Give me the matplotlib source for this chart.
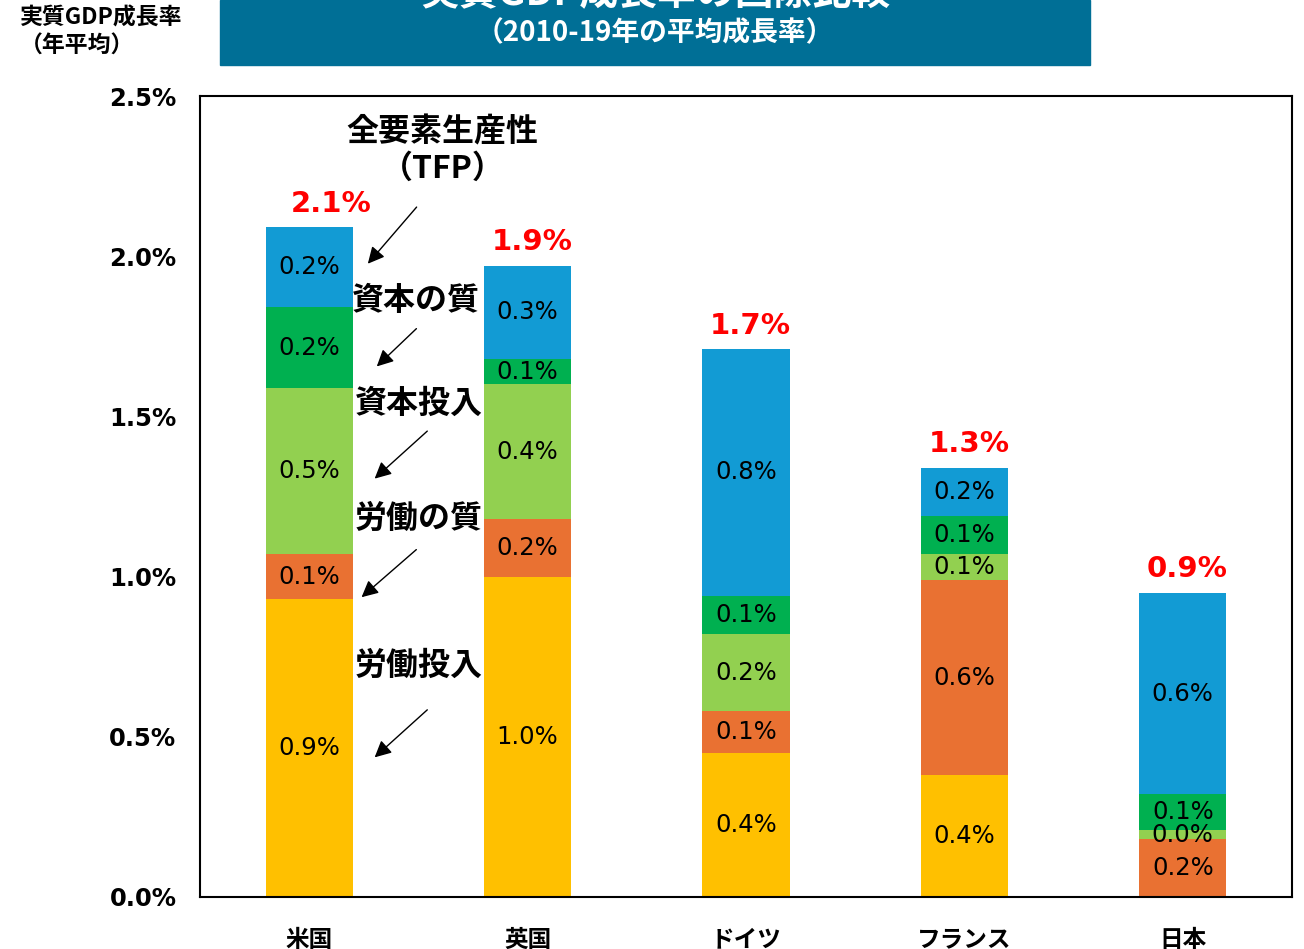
import matplotlib.pyplot as plt
import matplotlib.patches as mpatches
import numpy as np

plt.rcParams['font.family'] = ['Noto Sans CJK JP', 'DejaVu Sans']

countries = ["米国", "英国", "ドイツ", "フランス", "日本"]
components = ["労働投入", "労働の質", "資本投入", "資本の質", "全要素生産性"]

# contributions (percentage points)
labor_input = [0.93, 1.00, 0.45, 0.38, 0.00]
labor_quality = [0.14, 0.18, 0.13, 0.61, 0.18]
capital_input = [0.52, 0.42, 0.24, 0.08, 0.03]
capital_quality = [0.25, 0.08, 0.12, 0.12, 0.11]
tfp = [0.25, 0.29, 0.77, 0.15, 0.63]

seg_labels = [
    ["0.9%", "1.0%", "0.4%", "0.4%", ""],
    ["0.1%", "0.2%", "0.1%", "0.6%", "0.2%"],
    ["0.5%", "0.4%", "0.2%", "0.1%", "0.0%"],
    ["0.2%", "0.1%", "0.1%", "0.1%", "0.1%"],
    ["0.2%", "0.3%", "0.8%", "0.2%", "0.6%"],
]
total_labels = ["2.1%", "1.9%", "1.7%", "1.3%", "0.9%"]

colors = ["#FFC000", "#E97132", "#92D050", "#00B050", "#129BD4"]

fig = plt.figure(figsize=(13.04, 9.49), dpi=100)
ax = fig.add_axes([0.1534, 0.0548, 0.8374, 0.844])

x = np.arange(len(countries))
series = [labor_input, labor_quality, capital_input, capital_quality, tfp]
bottom = np.zeros(len(countries))
for vals, col, labs in zip(series, colors, seg_labels):
    vals = np.array(vals)
    ax.bar(x, vals, 0.4, bottom=bottom, color=col, edgecolor="none")
    for i in range(len(countries)):
        if labs[i]:
            ax.text(x[i], bottom[i] + vals[i] / 2, labs[i], ha="center", va="center",
                    fontsize=17.5, family="DejaVu Sans", color="black")
    bottom = bottom + vals

for i in range(len(countries)):
    dx = 0.1 if i == 0 else 0.02
    ax.text(x[i] + dx, bottom[i] + 0.03, total_labels[i], ha="center", va="bottom",
            fontsize=21, fontweight="bold", family="DejaVu Sans", color="red")

ax.set_xlim(-0.5, 4.5)
ax.set_ylim(0, 2.5)
ax.set_yticks([0, 0.5, 1.0, 1.5, 2.0, 2.5])
ax.set_yticklabels(["0.0%", "0.5%", "1.0%", "1.5%", "2.0%", "2.5%"],
                   fontsize=17.5, fontweight="bold", family="DejaVu Sans")
ax.set_xticks(x)
ax.set_xticklabels(countries, fontsize=17, fontweight="bold")
ax.tick_params(axis="both", length=0)
ax.tick_params(axis="y", pad=17)
ax.tick_params(axis="x", pad=22)
for s in ax.spines.values():
    s.set_linewidth(1.5)
    s.set_color("black")

# component annotations with arrows (US bar)
notes = [
    ("全要素生産性\n（TFP）", 0.61, 2.33, (0.50, 2.16), (0.26, 1.97)),
    ("資本の質", 0.49, 1.86, (0.50, 1.78), (0.30, 1.65)),
    ("資本投入", 0.50, 1.54, (0.55, 1.46), (0.29, 1.30)),
    ("労働の質", 0.50, 1.18, (0.50, 1.09), (0.23, 0.93)),
    ("労働投入", 0.50, 0.72, (0.55, 0.59), (0.29, 0.43)),
]
for txt, tx, ty, start, end in notes:
    ax.text(tx, ty, txt, ha="center", va="center", fontsize=23, fontweight="bold",
            linespacing=1.2)
    ax.annotate("", xy=end, xytext=start,
                arrowprops=dict(arrowstyle="-|>", color="black", lw=1.0,
                                mutation_scale=25))

# header box
fig.patches.append(mpatches.Rectangle((220 / 1304, 1 - 65 / 949), 870 / 1304, 65 / 949,
                                      transform=fig.transFigure, color="#006F96", zorder=0))
fig.text(655 / 1304, 1 - (-6) / 949, "実質GDP成長率の国際比較", ha="center", va="center",
         fontsize=28, fontweight="bold", color="white")
fig.text(655 / 1304, 1 - 33 / 949, "（2010-19年の平均成長率）", ha="center", va="center",
         fontsize=20, fontweight="bold", color="white")
fig.text(20 / 1304, 1 - 32 / 949, "実質GDP成長率\n（年平均）", ha="left", va="center",
         fontsize=16.5, fontweight="bold", color="black", linespacing=1.25)

fig.savefig("out.png", dpi=100)
